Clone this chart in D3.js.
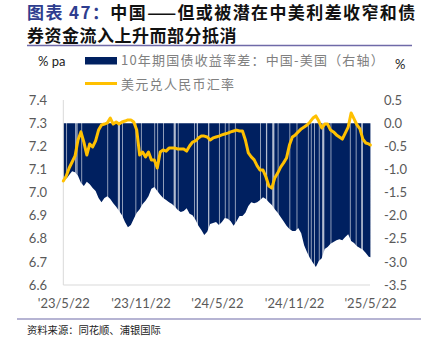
<!DOCTYPE html>
<html>
<head>
<meta charset="utf-8">
<script src="https://cdn.jsdelivr.net/npm/d3@7"></script>
<style>
  html, body { margin: 0; padding: 0; background: #fff; }
  svg { display: block; }
</style>
</head>
<body>
<svg id="chart" width="427" height="342"></svg>
<script>
// Weekly observations from 2023-05-22; the last point is 2025-05-23.
// 10Y government bond yield spread, China minus US (percentage points, right axis)
const spread = [
  -1.19, -1.21, -1.12, -1.04, -1.06, -1.14, -1.29, -1.36, -1.27, -1.32,
  -1.40, -1.47, -1.62, -1.71, -1.62, -1.58, -1.64, -1.73, -1.81, -1.90,
  -1.99, -2.14, -2.25, -2.20, -2.07, -1.94, -1.86, -1.75, -1.68, -1.58,
  -1.42, -1.38, -1.47, -1.55, -1.62, -1.66, -1.71, -1.75, -1.81, -1.88,
  -1.92, -1.90, -1.84, -1.96, -1.99, -2.09, -2.22, -2.31, -2.42, -2.35,
  -2.18, -2.16, -2.14, -2.20, -2.14, -2.05, -2.07, -2.12, -2.22, -2.12,
  -2.01, -2.01, -1.94, -1.79, -1.71, -1.73, -1.71, -1.66, -1.60, -1.64,
  -1.71, -1.77, -1.86, -1.94, -2.03, -2.12, -2.22, -2.29, -2.33, -2.33,
  -2.27, -2.38, -2.64, -2.79, -2.92, -3.02, -3.11, -2.98, -2.92, -2.72,
  -2.68, -2.61, -2.57, -2.53, -2.51, -2.53, -2.46, -2.40, -2.55, -2.59,
  -2.66, -2.70, -2.74, -2.81, -2.89, -2.90
];

// USD/CNY exchange rate (left axis)
const usdcny = [
  7.050, 7.071, 7.106, 7.132, 7.158, 7.227, 7.262, 7.218, 7.162, 7.210,
  7.197, 7.223, 7.270, 7.292, 7.296, 7.301, 7.322, 7.296, 7.305, 7.296,
  7.305, 7.309, 7.314, 7.314, 7.305, 7.270, 7.162, 7.175, 7.154, 7.175,
  7.141, 7.141, 7.106, 7.175, 7.184, 7.179, 7.192, 7.192, 7.192, 7.188,
  7.188, 7.188, 7.179, 7.201, 7.218, 7.223, 7.236, 7.244, 7.244, 7.240,
  7.227, 7.236, 7.240, 7.244, 7.249, 7.253, 7.257, 7.262, 7.266, 7.270,
  7.266, 7.266, 7.227, 7.171, 7.154, 7.141, 7.115, 7.097, 7.097, 7.067,
  7.028, 7.019, 7.063, 7.084, 7.110, 7.128, 7.149, 7.205, 7.240, 7.249,
  7.262, 7.275, 7.283, 7.292, 7.305, 7.322, 7.331, 7.309, 7.279, 7.296,
  7.296, 7.270, 7.262, 7.249, 7.240, 7.231, 7.257, 7.283, 7.344, 7.318,
  7.292, 7.275, 7.231, 7.214, 7.210, 7.205
];

const startDate = "2023-05-22";
const endDate = "2025-05-23";

// Market holidays (China or US closed): [first day, trading days missed]
const closedDays = [
  ["2023-05-29", 1], ["2023-06-19", 1], ["2023-06-22", 2], ["2023-07-04", 1],
  ["2023-09-04", 1], ["2023-09-29", 4], ["2023-10-09", 1], ["2023-11-10", 1],
  ["2023-11-23", 1], ["2023-12-25", 1], ["2024-01-01", 1], ["2024-01-15", 1],
  ["2024-02-09", 4], ["2024-02-19", 1], ["2024-03-29", 1], ["2024-04-04", 2],
  ["2024-05-01", 2], ["2024-05-27", 1], ["2024-06-10", 1], ["2024-06-19", 1],
  ["2024-07-04", 1], ["2024-09-02", 1], ["2024-09-16", 2], ["2024-10-01", 4],
  ["2024-10-14", 1], ["2024-11-11", 1], ["2024-11-28", 1], ["2024-12-25", 1],
  ["2025-01-01", 1], ["2025-01-09", 1], ["2025-01-20", 1], ["2025-01-28", 4],
  ["2025-02-17", 1], ["2025-04-04", 1], ["2025-04-18", 1], ["2025-05-01", 3]
];

const leftTicks = [7.4, 7.3, 7.2, 7.1, 7.0, 6.9, 6.8, 6.7, 6.6];
const rightTicks = [0.5, 0.0, -0.5, -1.0, -1.5, -2.0, -2.5, -3.0, -3.5];
const xTickDates = ["2023-05-22", "2023-11-22", "2024-05-22", "2024-11-22", "2025-05-22"];

const titleLead = "图表 47：";
const titleLine1 = "中国——但或被潜在中美利差收窄和债";
const titleLine2 = "券资金流入上升而部分抵消";
const legendSpread = "10年期国债收益率差：中国-美国（右轴）";
const legendFx = "美元兑人民币汇率";
const leftUnit = "% pa";
const rightUnit = "%";
const sourceText = "资料来源：同花顺、浦银国际";

// ---------------------------------------------------------------
const parse = d3.utcParse("%Y-%m-%d");
const t0 = parse(startDate);
const dates = spread.map((_, i) =>
  i === spread.length - 1 ? parse(endDate) : d3.utcDay.offset(t0, 7 * i));
const rows = dates.map((d, i) => ({ date: d, spread: spread[i], fx: usdcny[i] }));

const svg = d3.select("#chart");
const plot = { left: 63.3, right: 370, top: 100, bottom: 285 };

const x = d3.scaleUtc()
  .domain([parse(xTickDates[0]), parse(xTickDates[xTickDates.length - 1])])
  .range([plot.left, plot.right]);
const yL = d3.scaleLinear().domain([6.6, 7.4]).range([plot.bottom, plot.top]);
const yR = d3.scaleLinear().domain([-3.5, 0.5]).range([plot.bottom, plot.top]);

const numFont = "Lato, 'Open Sans', sans-serif";
const cjkFont = "'Noto Sans CJK SC', sans-serif";
const fmt = v => d3.format(".1f")(v).replace("−", "-");

// Title (two lines)
const title = svg.append("text")
  .attr("font-family", cjkFont).attr("font-size", 17).attr("font-weight", 700);
title.append("tspan").attr("x", 27).attr("y", 18.5).attr("letter-spacing", 1.4)
  .attr("fill", "#2e3d8f").text(titleLead);
title.append("tspan").attr("letter-spacing", 1.4)
  .attr("fill", "#111").text(titleLine1);
title.append("tspan").attr("x", 27).attr("y", 42).attr("letter-spacing", 0.5)
  .attr("fill", "#111").text(titleLine2);
svg.append("line")
  .attr("x1", 27).attr("x2", 412).attr("y1", 45.5).attr("y2", 45.5)
  .attr("stroke", "#6f6aa8").attr("stroke-width", 1.5);

// Units
svg.append("text").attr("x", 38).attr("y", 66)
  .attr("font-family", numFont).attr("font-size", 13).attr("fill", "#222")
  .text(leftUnit);
svg.append("text").attr("x", 395).attr("y", 69)
  .attr("font-family", numFont).attr("font-size", 13).attr("fill", "#222")
  .text(rightUnit);

// Legend
svg.append("rect").attr("x", 85).attr("y", 57).attr("width", 32).attr("height", 7.5)
  .attr("fill", "#002060");
svg.append("text").attr("x", 121).attr("y", 65)
  .attr("font-family", cjkFont).attr("font-size", 13).attr("letter-spacing", 1.2)
  .attr("fill", "#808080").text(legendSpread);
svg.append("line").attr("x1", 85).attr("x2", 117).attr("y1", 83.5).attr("y2", 83.5)
  .attr("stroke", "#FFC000").attr("stroke-width", 3);
svg.append("text").attr("x", 121).attr("y", 88.5)
  .attr("font-family", cjkFont).attr("font-size", 13).attr("letter-spacing", 1.3)
  .attr("fill", "#808080").text(legendFx);

// Spread (right axis) drawn as filled bars from zero
const area = d3.area()
  .x(d => x(d.date))
  .y0(yR(0))
  .y1(d => yR(d.spread));
svg.append("path").datum(rows)
  .attr("d", area).attr("fill", "#002060");

// Holiday breaks in the spread series
svg.append("g").selectAll("rect").data(closedDays).join("rect")
  .attr("x", d => x(parse(d[0])))
  .attr("width", d => 0.8 + 0.45 * (d[1] - 1))
  .attr("y", yR(0) - 0.5)
  .attr("height", plot.bottom - 1 - yR(0))
  .attr("fill", "#ffffff").attr("opacity", 0.7);

// Axis lines
svg.append("line").attr("x1", plot.left).attr("x2", plot.left)
  .attr("y1", plot.top).attr("y2", plot.bottom)
  .attr("stroke", "#d9d9d9").attr("stroke-width", 1);
svg.append("line").attr("x1", plot.left).attr("x2", plot.right)
  .attr("y1", plot.bottom).attr("y2", plot.bottom)
  .attr("stroke", "#d9d9d9").attr("stroke-width", 1);

// USD/CNY line (left axis)
const line = d3.line().x(d => x(d.date)).y(d => yL(d.fx));
svg.append("path").datum(rows)
  .attr("d", line).attr("fill", "none")
  .attr("stroke", "#FFC000").attr("stroke-width", 3)
  .attr("stroke-linejoin", "round").attr("stroke-linecap", "round");

// Left axis labels
const leftAxis = d3.axisLeft(yL).tickValues(leftTicks).tickFormat(fmt).tickSize(0).tickPadding(0);
const gL = svg.append("g").attr("transform", "translate(47,0)").call(leftAxis);
gL.select(".domain").remove();
gL.selectAll("text").attr("font-family", numFont).attr("font-size", 13).attr("fill", "#595959");

// Right axis labels
const rightAxis = d3.axisRight(yR).tickValues(rightTicks).tickFormat(fmt).tickSize(0).tickPadding(0);
const gR = svg.append("g").attr("transform", "translate(384,0)").call(rightAxis);
gR.select(".domain").remove();
gR.selectAll("text").attr("font-family", numFont).attr("font-size", 13).attr("fill", "#595959");

// Date labels
const xAxis = d3.axisBottom(x).tickValues(xTickDates.map(parse))
  .tickFormat(d3.utcFormat("'%y/%-m/%-d")).tickSize(0).tickPadding(0);
const gX = svg.append("g").attr("transform", "translate(0,299)").call(xAxis);
gX.select(".domain").remove();
gX.selectAll("text").attr("font-family", numFont).attr("font-size", 13).attr("fill", "#595959");

// Source
svg.append("line")
  .attr("x1", 17).attr("x2", 421).attr("y1", 319).attr("y2", 319)
  .attr("stroke", "#6f6aa8").attr("stroke-width", 1.2);
svg.append("text").attr("x", 27).attr("y", 334)
  .attr("font-family", cjkFont).attr("font-size", 10.3).attr("fill", "#222")
  .text(sourceText);
</script>
</body>
</html>
